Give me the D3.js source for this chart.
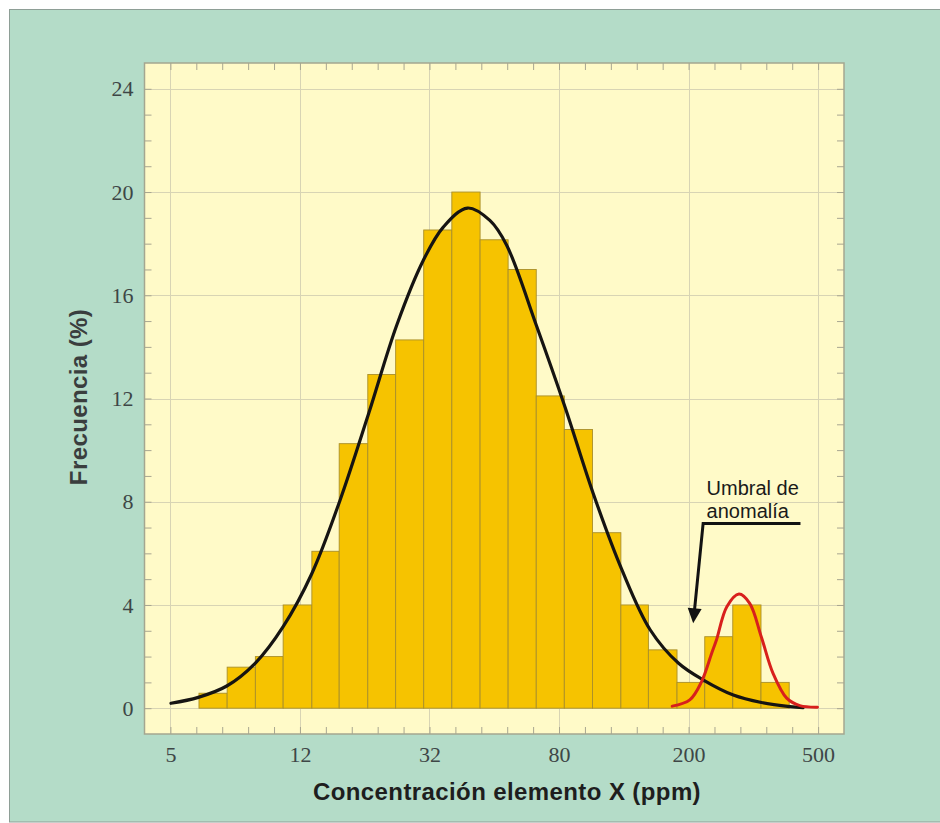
<!DOCTYPE html>
<html>
<head>
<meta charset="utf-8">
<script src="https://cdn.jsdelivr.net/npm/d3@7"></script>
<style>
  html, body { margin: 0; padding: 0; background: #ffffff; }
  svg { display: block; }
</style>
</head>
<body>
<div id="chart"></div>
<script>
// ---------------- DATA ----------------
// Histogram class edges (ppm, log-spaced classes) and frequencies (%)
const binEdges = [6.12, 7.47, 9.12, 11.1, 13.6, 16.5, 20.2, 24.6, 30.0, 36.6, 44.7,
                  54.5, 66.5, 81.1, 99.0, 121, 147, 180, 219, 267, 326, 398];
const frequencies = [0.58, 1.59, 2.0, 4.0, 6.08, 10.25, 12.93, 14.27, 18.53, 20.0, 18.15,
                     17.0, 12.1, 10.8, 6.8, 4.0, 2.26, 1.0, 2.77, 4.0, 1.0];

// Fitted background population curve (black)
const normalX = [5.02, 6.09, 7.45, 9.12, 11.1, 13.6, 16.6, 20.3, 24.8, 29.9, 34.5, 40.9,
                 47.9, 53.9, 66.7, 81.5, 99.5, 122, 149, 182, 217, 268, 327, 400, 439];
const normalY = [0.19, 0.42, 0.86, 1.75, 3.16, 5.22, 8.06, 11.4, 14.85, 17.35, 18.65, 19.38,
                 18.9, 17.95, 14.8, 11.67, 8.32, 5.35, 3.03, 1.74, 1.09, 0.51, 0.22, 0.06, 0.02];

// Anomalous population curve (red)
const anomalyX = [174, 197, 214, 230, 238, 256, 279, 301, 327, 355, 391, 429, 486];
const anomalyY = [0.08, 0.32, 1.02, 2.13, 2.65, 3.93, 4.42, 4.06, 2.75, 1.35, 0.39, 0.1, 0.04];

// Axes
const xDomain = [4.163, 586.4];
const xTickValues = [5, 12.5, 31.25, 78.125, 195.3125, 488.28125];
const xTickLabels = ["5", "12", "32", "80", "200", "500"];
const yDomain = [-1, 25];
const yTickValues = [0, 4, 8, 12, 16, 20, 24];
const yTickLabels = ["0", "4", "8", "12", "16", "20", "24"];

// Annotation (data units: ppm, %)
const annotationLines = ["Umbral de", "anomalía"];
const annotationTextPos = [221.9, 8.26, 7.37];
const annotationPath = [[431, 7.16], [216.5, 7.16], [201.8, 3.29]];

const xTitle = "Concentración elemento X (ppm)";
const yTitle = "Frecuencia (%)";

// ---------------- DRAW ----------------
const W = 940, H = 823;
const L = 144.5, R = 844, T = 63, B = 734;

const svg = d3.select("#chart").append("svg")
  .attr("width", W).attr("height", H);

svg.append("rect").attr("width", W).attr("height", H).attr("fill", "#ffffff");
svg.append("rect")
  .attr("x", 9.5).attr("y", 9.5).attr("width", W).attr("height", 812.5)
  .attr("fill", "#b4dcc8").attr("stroke", "#8e9e96").attr("stroke-width", 1);

const x = d3.scaleLog().domain(xDomain).range([L, R]);
const y = d3.scaleLinear().domain(yDomain).range([B, T]);

// Plot background
svg.append("rect")
  .attr("x", L).attr("y", T).attr("width", R - L).attr("height", B - T)
  .attr("fill", "#fffac8");

// Grid
const grid = svg.append("g").attr("stroke", "#d8d4b4").attr("stroke-width", 1);
grid.selectAll("line.v").data(xTickValues).join("line")
  .attr("x1", d => Math.round(x(d)) + 0.5).attr("x2", d => Math.round(x(d)) + 0.5)
  .attr("y1", T).attr("y2", B);
grid.selectAll("line.h").data(yTickValues).join("line")
  .attr("y1", d => Math.round(y(d)) + 0.5).attr("y2", d => Math.round(y(d)) + 0.5)
  .attr("x1", L).attr("x2", R);

// Bars
const bars = frequencies.map((f, i) => ({ x0: binEdges[i], x1: binEdges[i + 1], f }));
svg.append("g").selectAll("rect").data(bars).join("rect")
  .attr("x", d => x(d.x0))
  .attr("width", d => x(d.x1) - x(d.x0))
  .attr("y", d => y(d.f))
  .attr("height", d => y(0) - y(d.f))
  .attr("fill", "#f6c300")
  .attr("stroke", "#a98f2a")
  .attr("stroke-width", 0.9);

// Curves
const line = d3.line()
  .x(d => x(d[0])).y(d => y(d[1]))
  .curve(d3.curveCatmullRom.alpha(0.5));

svg.append("path")
  .datum(normalX.map((v, i) => [v, normalY[i]]))
  .attr("d", line)
  .attr("fill", "none").attr("stroke", "#161412").attr("stroke-width", 3.2)
  .attr("stroke-linecap", "round");

svg.append("path")
  .datum(anomalyX.map((v, i) => [v, anomalyY[i]]))
  .attr("d", line)
  .attr("fill", "none").attr("stroke", "#d8201c").attr("stroke-width", 3)
  .attr("stroke-linecap", "round");

// Ticks (inward), minor and major
const minorX = d3.range(-1, 27).map(i => 5 * Math.pow(2.5, i / 5))
  .filter(v => v > xDomain[0] * 1.001 && v < xDomain[1] * 0.999);
const minorY = d3.range(0, 25);
const tickColor = "#a8a690";

svg.append("g").attr("transform", `translate(0,${B})`)
  .call(d3.axisBottom(x).tickValues(minorX).tickSize(-7).tickFormat(""))
  .call(g => g.select(".domain").remove())
  .call(g => g.selectAll("line").attr("stroke", tickColor));
svg.append("g").attr("transform", `translate(0,${T})`)
  .call(d3.axisTop(x).tickValues(minorX).tickSize(-7).tickFormat(""))
  .call(g => g.select(".domain").remove())
  .call(g => g.selectAll("line").attr("stroke", tickColor));
svg.append("g").attr("transform", `translate(${L},0)`)
  .call(d3.axisLeft(y).tickValues(minorY).tickSize(-7).tickFormat(""))
  .call(g => g.select(".domain").remove())
  .call(g => g.selectAll("line").attr("stroke", tickColor));
svg.append("g").attr("transform", `translate(${R},0)`)
  .call(d3.axisRight(y).tickValues(minorY).tickSize(-7).tickFormat(""))
  .call(g => g.select(".domain").remove())
  .call(g => g.selectAll("line").attr("stroke", tickColor));

// Frame
svg.append("rect")
  .attr("x", L).attr("y", T).attr("width", R - L).attr("height", B - T)
  .attr("fill", "none").attr("stroke", "#a4a690").attr("stroke-width", 1.5);

// Tick labels
const labelColor = "#3e4646";
svg.append("g").attr("transform", `translate(0,${B})`)
  .call(d3.axisBottom(x).tickValues(xTickValues).tickSize(0).tickPadding(12)
        .tickFormat((d, i) => xTickLabels[i]))
  .call(g => g.select(".domain").remove())
  .call(g => g.selectAll("text")
        .attr("font-family", "'Liberation Serif', 'Times New Roman', serif")
        .attr("font-size", 22).attr("fill", labelColor));
svg.append("g").attr("transform", `translate(${L},0)`)
  .call(d3.axisLeft(y).tickValues(yTickValues).tickSize(0).tickPadding(11)
        .tickFormat((d, i) => yTickLabels[i]))
  .call(g => g.select(".domain").remove())
  .call(g => g.selectAll("text")
        .attr("font-family", "'Liberation Serif', 'Times New Roman', serif")
        .attr("font-size", 22).attr("fill", labelColor));

// Axis titles
svg.append("text")
  .attr("x", 507).attr("y", 800)
  .attr("text-anchor", "middle")
  .attr("font-family", "'Liberation Sans', Arial, sans-serif")
  .attr("font-weight", "bold").attr("font-size", 24)
  .attr("letter-spacing", 0.4)
  .attr("fill", "#1e1e1e")
  .text(xTitle);
svg.append("text")
  .attr("transform", "translate(87,397) rotate(-90)")
  .attr("text-anchor", "middle")
  .attr("font-family", "'Liberation Sans', Arial, sans-serif")
  .attr("font-weight", "bold").attr("font-size", 24)
  .attr("letter-spacing", 0.4)
  .attr("fill", "#3a3e3e")
  .text(yTitle);

// Annotation
const ann = svg.append("g");
ann.selectAll("text").data(annotationLines).join("text")
  .attr("x", x(annotationTextPos[0]))
  .attr("y", (d, i) => y(annotationTextPos[1 + i]))
  .attr("font-family", "'Liberation Sans', Arial, sans-serif")
  .attr("font-size", 20).attr("fill", "#1a1a1a")
  .text(d => d);

const pts = annotationPath.map(p => [x(p[0]), y(p[1])]);
const tip = pts[pts.length - 1], prev = pts[pts.length - 2];
const dx = tip[0] - prev[0], dy = tip[1] - prev[1];
const len = Math.hypot(dx, dy);
const ux = dx / len, uy = dy / len;
const headLen = 15, headHalf = 7;
const base = [tip[0] - ux * headLen, tip[1] - uy * headLen];
const linePts = pts.slice(0, -1).concat([[tip[0] - ux * (headLen - 2), tip[1] - uy * (headLen - 2)]]);
ann.append("path")
  .attr("d", d3.line()(linePts))
  .attr("fill", "none").attr("stroke", "#121212").attr("stroke-width", 3)
  .attr("stroke-linejoin", "miter");
ann.append("path")
  .attr("d", d3.line()([tip,
    [base[0] - uy * headHalf, base[1] + ux * headHalf],
    [base[0] + uy * headHalf, base[1] - ux * headHalf]]) + "Z")
  .attr("fill", "#121212");
</script>
</body>
</html>
